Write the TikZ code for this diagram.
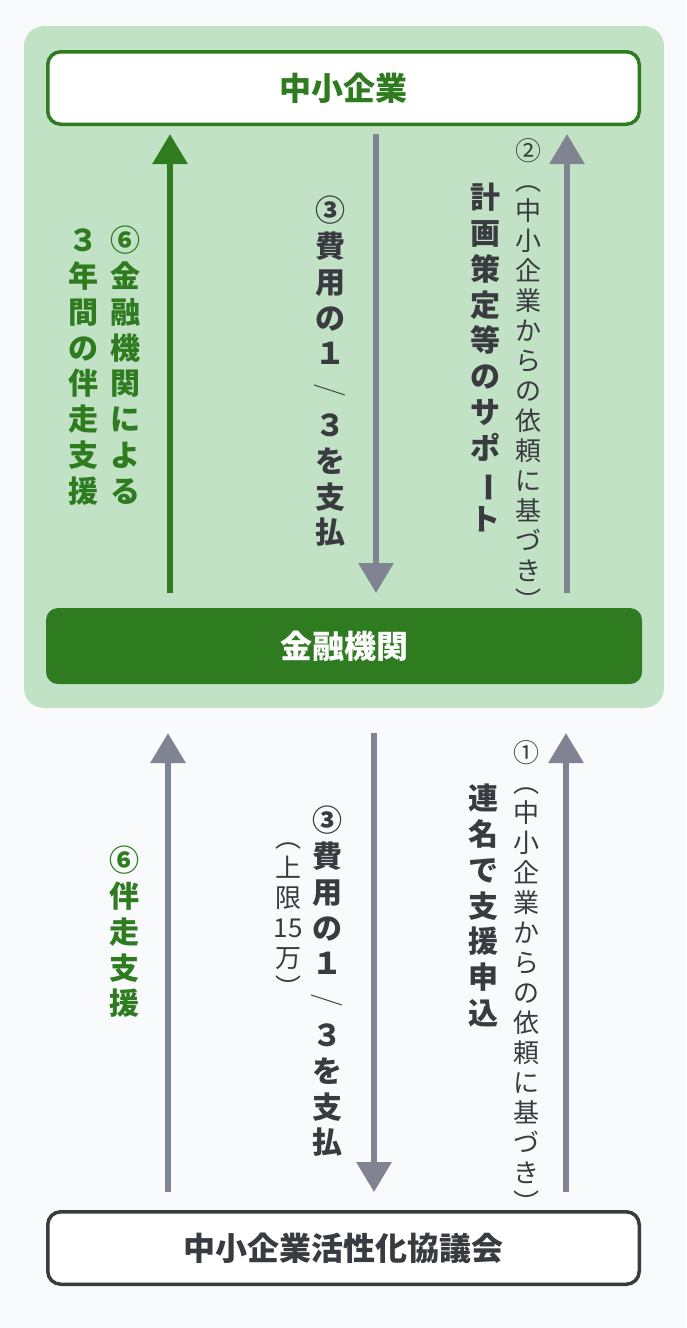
\documentclass[tikz,border=0pt]{standalone}
\usepackage{fontspec}
\setmainfont{Noto Sans CJK JP}
\usetikzlibrary{arrows.meta}
\definecolor{bg}{HTML}{F9FAFC}
\definecolor{panel}{HTML}{C2E2C6}
\definecolor{grn}{HTML}{2E7B20}
\definecolor{arr}{HTML}{7F8392}
\definecolor{ink}{HTML}{3A3B41}
\newcommand{\vstrut}{\rule{0pt}{0.88em}}
\newcommand{\vslash}{\scalebox{0.85}{\rotatebox[origin=c]{-63}{\mdseries ／}}}
\newcommand{\vbar}{\rotatebox[origin=c]{-90}{ー}}
\tikzset{
  vt/.style={inner sep=0pt, align=center, anchor=north, text=ink,
    font=\bfseries\fontsize{30}{35.8}\selectfont},
  vtr/.style={inner sep=0pt, align=center, anchor=north, text=ink,
    font=\fontsize{26}{30}\selectfont},
  boxtext/.style={font=\bfseries\fontsize{32}{38}\selectfont},
  flow/.style={line width=6pt, -{Triangle[width=34pt,length=30pt]}},
}
\begin{document}
\begin{tikzpicture}[x=1pt,y=-1pt]
\fill[bg] (0,0) rectangle (686,1328);
\useasboundingbox (0,0) rectangle (686,1328);
% panel
\fill[panel, rounded corners=20pt] (24,26) rectangle (664,708);
% boxes
\node[draw=grn, line width=3.5pt, fill=white, rounded corners=13pt,
  minimum width=591.5pt, minimum height=72.5pt, inner sep=0pt,
  boxtext, text=grn] (sme) at (343.5,88) {中小企業};
\node[fill=grn, rounded corners=12pt, minimum width=596pt, minimum height=76pt,
  inner sep=0pt, boxtext, text=white] (bank) at (344,646) {金融機関};
\node[draw=ink, line width=3.5pt, fill=white, rounded corners=13pt,
  minimum width=591.5pt, minimum height=72.5pt, inner sep=0pt,
  boxtext, text=ink] (council) at (343.5,1248) {中小企業活性化協議会};
% arrow end points
\coordinate (a1s) at (170,593); \coordinate (a1e) at (170,134);
\coordinate (a2s) at (376,134); \coordinate (a2e) at (376,593);
\coordinate (a3s) at (567,593); \coordinate (a3e) at (567,134);
\coordinate (b1s) at (168,1192); \coordinate (b1e) at (168,733);
\coordinate (b2s) at (374,733); \coordinate (b2e) at (374,1192);
\coordinate (b3s) at (566,1192); \coordinate (b3e) at (566,733);
\draw[flow, grn] (a1s) -- (a1e);
\draw[flow, arr] (a2s) -- (a2e);
\draw[flow, arr] (a3s) -- (a3e);
\draw[flow, arr] (b1s) -- (b1e);
\draw[flow, arr] (b2s) -- (b2e);
\draw[flow, arr] (b3s) -- (b3e);
% labels, top section
\node[vt, text=grn] (t6a) at (125,225) {\vstrut{}⑥\\金\\融\\機\\関\\に\\よ\\る};
\node[vt, text=grn] (t6b) at (83,225) {\vstrut{}３\\年\\間\\の\\伴\\走\\支\\援};
\node[vt] (t3a) at (330,195) {\vstrut{}③\\費\\用\\の\\１\\\vslash\\３\\を\\支\\払};
\node[vt] (t2b) at (485,182) {\vstrut{}計\\画\\策\\定\\等\\の\\サ\\ポ\\\vbar\\ト};
\node[vtr] (t2a) at (528,137) {\vstrut{}②\\︵\\中\\小\\企\\業\\か\\ら\\の\\依\\頼\\に\\基\\づ\\き\\︶};
% labels, bottom section
\node[vt, text=grn] (t6c) at (124,845) {\vstrut{}⑥\\伴\\走\\支\\援};
\node[vt] (t1b) at (483,783) {\vstrut{}連\\名\\で\\支\\援\\申\\込};
\node[vt] (t3b) at (327,805) {\vstrut{}③\\費\\用\\の\\１\\\vslash\\３\\を\\支\\払};
\node[vtr] (t3c) at (288,824) {\vstrut{}︵\\上\\限\\15\\万\\︶};
\node[vtr] (t1a) at (526,739) {\vstrut{}①\\︵\\中\\小\\企\\業\\か\\ら\\の\\依\\頼\\に\\基\\づ\\き\\︶};
\end{tikzpicture}
\end{document}
